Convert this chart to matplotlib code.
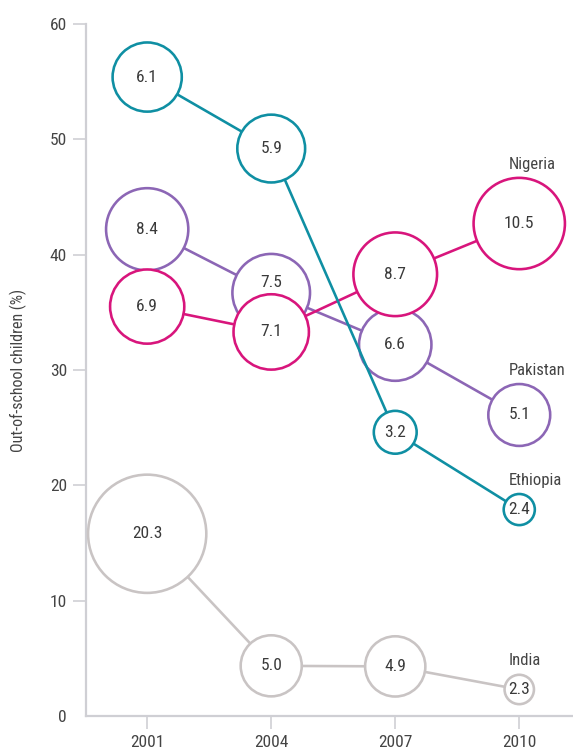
import numpy as np
import matplotlib
matplotlib.use("Agg")
import matplotlib.pyplot as plt

plt.rcParams['font.family'] = ['Roboto Condensed', 'Liberation Sans Narrow', 'DejaVu Sans']
plt.rcParams['font.stretch'] = 'condensed'

years = [2001, 2004, 2007, 2010]
countries = ["India", "Pakistan", "Nigeria", "Ethiopia"]
india_pct = [15.8, 4.35, 4.3, 2.3]
india_mil = [20.3, 5.0, 4.9, 2.3]
pakistan_pct = [42.2, 36.7, 32.2, 26.1]
pakistan_mil = [8.4, 7.5, 6.6, 5.1]
nigeria_pct = [35.5, 33.3, 38.3, 42.7]
nigeria_mil = [6.9, 7.1, 8.7, 10.5]
ethiopia_pct = [55.4, 49.2, 24.6, 17.9]
ethiopia_mil = [6.1, 5.9, 3.2, 2.4]
yticks = [0, 10, 20, 30, 40, 50, 60]

colors = {"India": "#c9c4c4", "Pakistan": "#8c66b5", "Nigeria": "#d8157c", "Ethiopia": "#0f8fa3"}
series = {"India": (india_pct, india_mil), "Pakistan": (pakistan_pct, pakistan_mil),
          "Nigeria": (nigeria_pct, nigeria_mil), "Ethiopia": (ethiopia_pct, ethiopia_mil)}
# label nudges (pixels) to keep numbers readable where circles overlap
label_nudge = {("Pakistan", 2004): 10}

DPI = 100
fig = plt.figure(figsize=(5.73, 7.49), dpi=DPI)
ax = fig.add_axes([86/573, 33/749, 1 - 86/573, (716-24)/749])
ax.set_xlim(1999.52, 2011.3)
ax.set_ylim(0, 60)

lw_px = 2.6
lw_pt = lw_px * 72 / DPI

def outer_diam_px(v):
    return 40.8 * np.log(v) - 2

z = 2
for c in countries:
    pct, mil = series[c]
    col = colors[c]
    ax.plot(years, pct, color=col, lw=lw_pt, zorder=z, solid_capstyle='butt')
    d_px = outer_diam_px(np.array(mil)) - lw_px
    s = (d_px * 72 / DPI) ** 2
    ax.scatter(years, pct, s=s, facecolor='white', edgecolor=col, linewidths=lw_pt, zorder=z + 1)
    for x, y, m in zip(years, pct, mil):
        dy = label_nudge.get((c, x), 0)
        ax.annotate(f"{m:.1f}", xy=(x, y), xytext=(0, dy * 72 / DPI), textcoords='offset points',
                    ha='center', va='center', fontsize=12.5, color='#3a3a3a', zorder=30)
    r_px = outer_diam_px(mil[-1]) / 2
    ax.annotate(c, xy=(years[-1], pct[-1]), xytext=(-11 * 72 / DPI, (r_px + 8) * 72 / DPI),
                textcoords='offset points', ha='left', va='baseline', fontsize=12, color='#444444',
                zorder=30)
    z += 3

for sp in ['top', 'right']:
    ax.spines[sp].set_visible(False)
for sp in ['left', 'bottom']:
    ax.spines[sp].set_color('#cfcfd4')
    ax.spines[sp].set_linewidth(1.6)

ax.set_xticks(years)
ax.set_xticklabels([str(y) for y in years])
ax.set_yticks(yticks)
ax.set_yticklabels([str(t) for t in yticks])
ax.tick_params(axis='both', length=13 * 72 / DPI, width=1.2, color='#cfcfd4', labelsize=12.5,
               labelcolor='#444444', pad=6 * 72 / DPI, direction='out')
ax.yaxis.get_major_ticks()[0].tick1line.set_visible(False)

fig.text(18 / 573, 1 - 370 / 749, "Out-of-school children (%)", rotation=90, ha='center', va='center',
         fontsize=11.5, color='#444444')

fig.savefig("out.png", dpi=DPI)
